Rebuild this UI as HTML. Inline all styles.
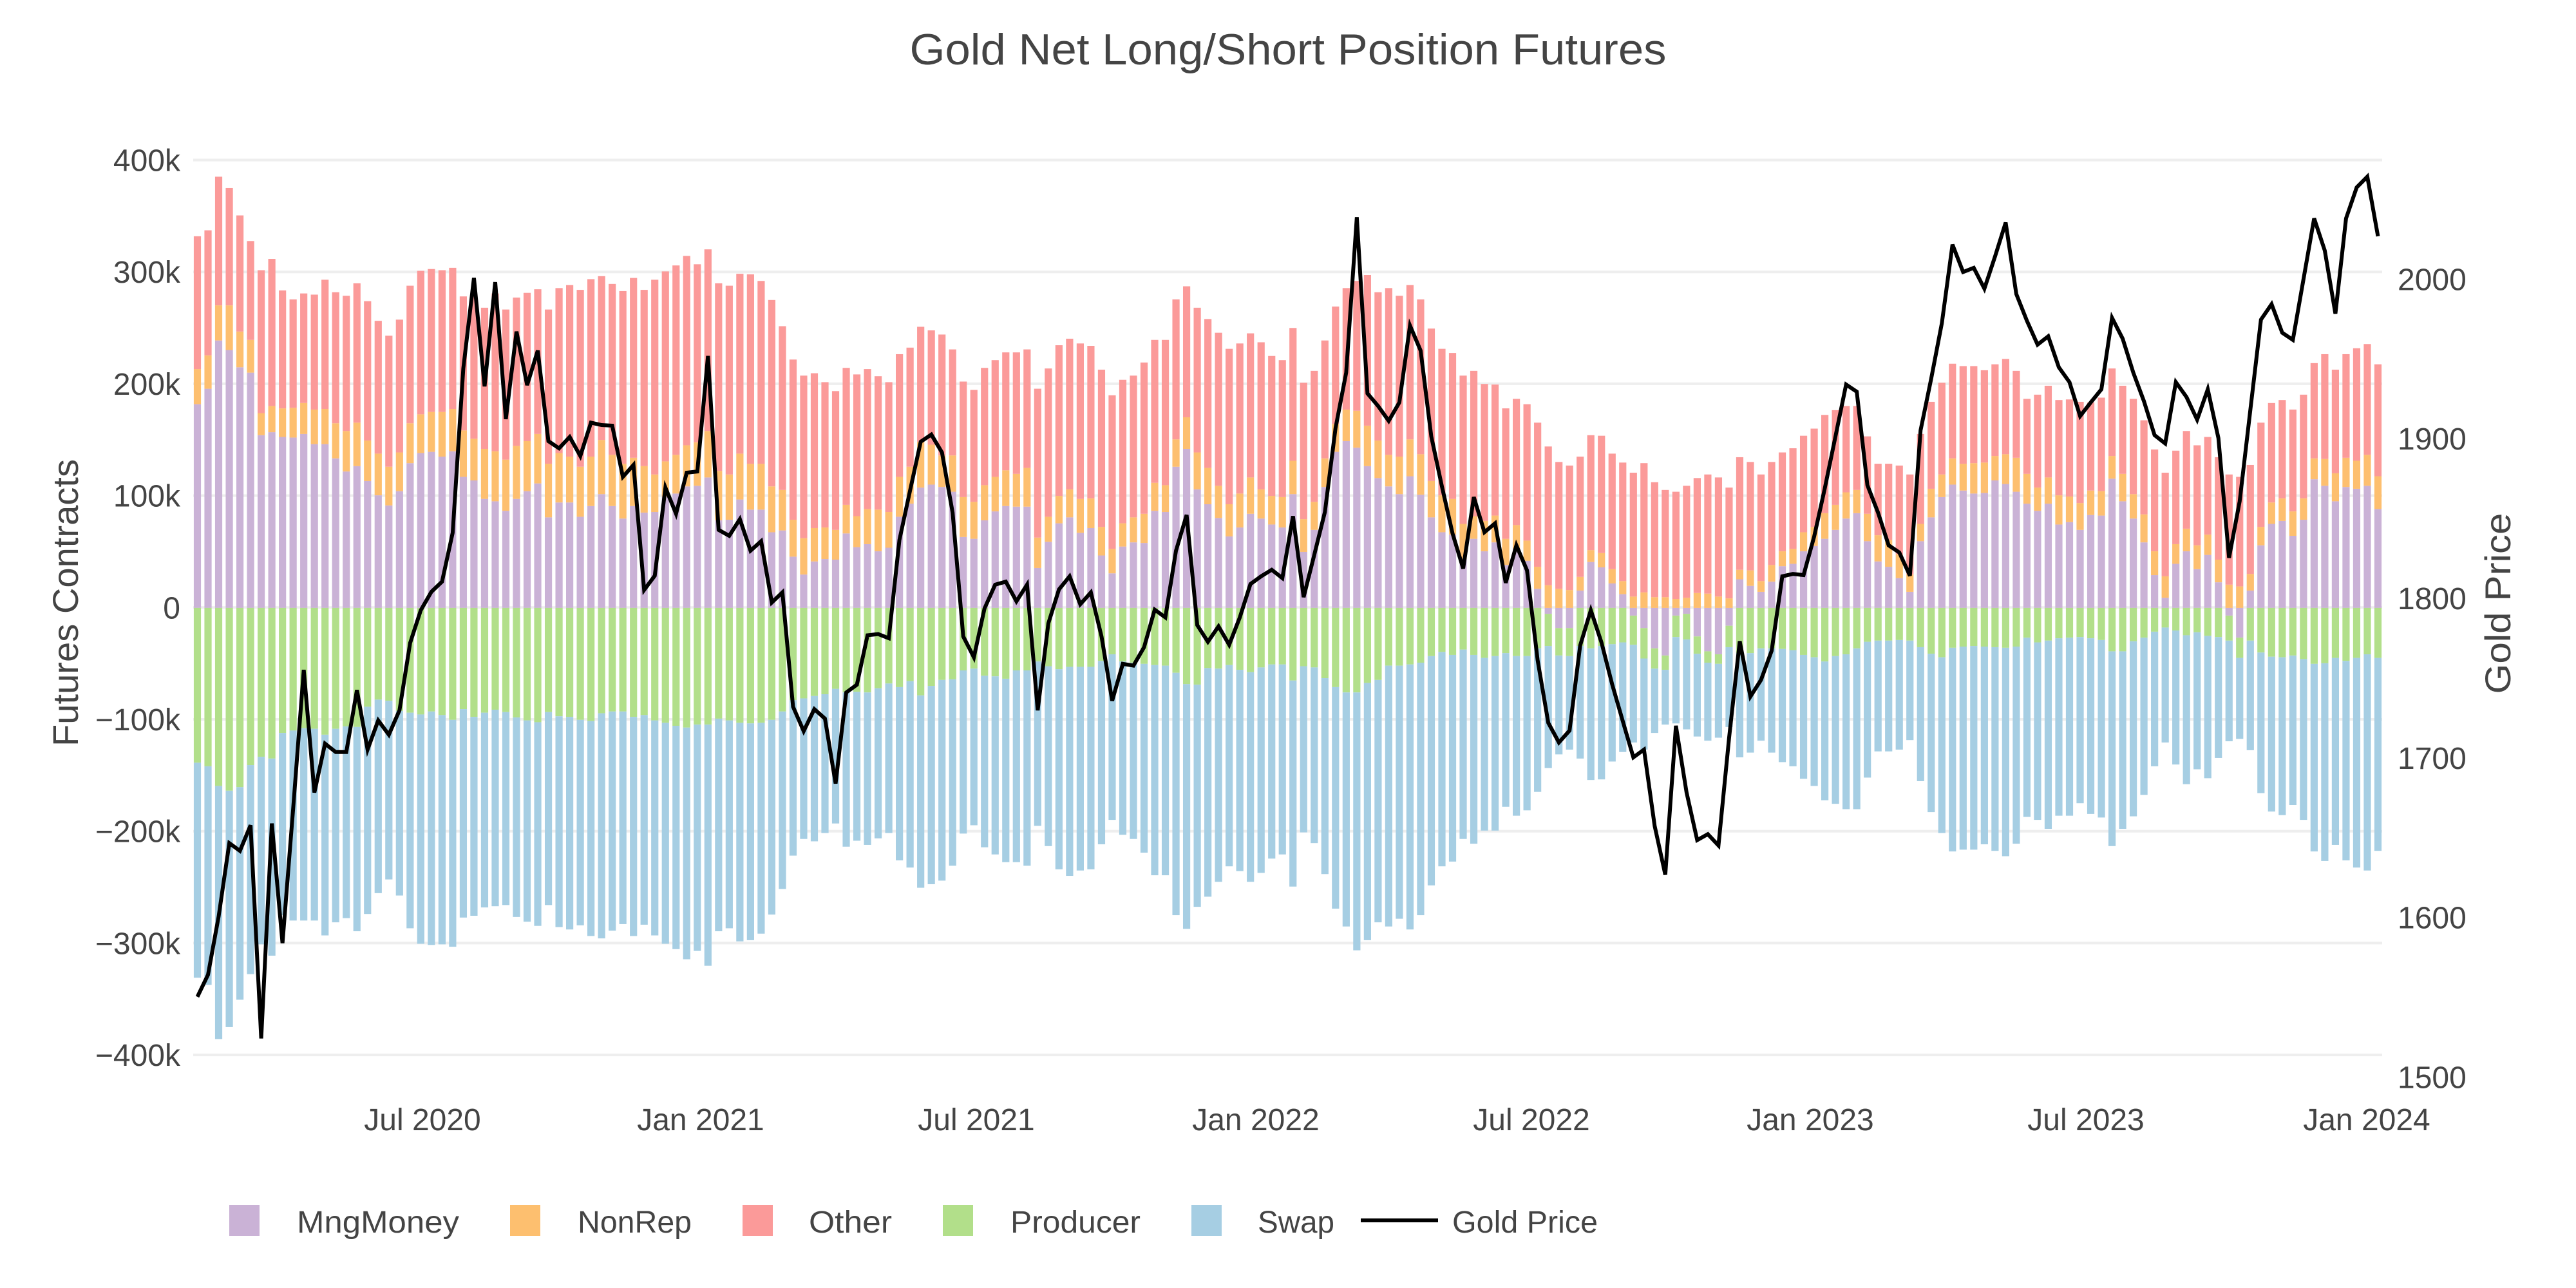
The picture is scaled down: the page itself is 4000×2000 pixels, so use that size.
<!DOCTYPE html>
<html>
<head>
<meta charset="utf-8">
<style>
html,body{margin:0;padding:0;background:#fff;}
svg{display:block;}
text{font-family:"Liberation Sans",Arial,sans-serif;fill:#444;}
</style>
</head>
<body>
<svg id="c" xmlns="http://www.w3.org/2000/svg" width="4000" height="2000" viewBox="0 0 4000 2000">
<rect x="0" y="0" width="4000" height="2000" fill="#ffffff"/>
<g stroke="#eeeeee" stroke-width="4">
<line x1="300" x2="3699" y1="248.5" y2="248.5"/>
<line x1="300" x2="3699" y1="422.2" y2="422.2"/>
<line x1="300" x2="3699" y1="595.9" y2="595.9"/>
<line x1="300" x2="3699" y1="769.6" y2="769.6"/>
<line x1="300" x2="3699" y1="943.3" y2="943.3"/>
<line x1="300" x2="3699" y1="1117.0" y2="1117.0"/>
<line x1="300" x2="3699" y1="1290.7" y2="1290.7"/>
<line x1="300" x2="3699" y1="1464.4" y2="1464.4"/>
<line x1="300" x2="3699" y1="1638.1" y2="1638.1"/>
</g>
<g id="bars"></g>
<polyline id="gold" fill="none" stroke="#000000" stroke-width="6" points=""/>

<!-- Title -->
<text x="2000" y="100" font-size="68" text-anchor="middle" textLength="1175" lengthAdjust="spacingAndGlyphs">Gold Net Long/Short Position Futures</text>

<!-- Left tick labels -->
<g font-size="48" text-anchor="end">
<text x="280" y="265.5">400k</text>
<text x="280" y="439.2">300k</text>
<text x="280" y="612.9">200k</text>
<text x="280" y="786.6">100k</text>
<text x="280" y="960.3">0</text>
<text x="280" y="1134">−100k</text>
<text x="280" y="1307.7">−200k</text>
<text x="280" y="1481.4">−300k</text>
<text x="280" y="1655.1">−400k</text>
</g>

<!-- Right tick labels -->
<g font-size="48" text-anchor="start">
<text x="3723" y="450.4">2000</text>
<text x="3723" y="698.2">1900</text>
<text x="3723" y="946">1800</text>
<text x="3723" y="1193.8">1700</text>
<text x="3723" y="1441.6">1600</text>
<text x="3723" y="1689.4">1500</text>
</g>

<!-- X tick labels -->
<g font-size="48" text-anchor="middle">
<text x="656" y="1755">Jul 2020</text>
<text x="1088" y="1755">Jan 2021</text>
<text x="1516" y="1755">Jul 2021</text>
<text x="1950" y="1755">Jan 2022</text>
<text x="2378" y="1755">Jul 2022</text>
<text x="2811" y="1755">Jan 2023</text>
<text x="3239" y="1755">Jul 2023</text>
<text x="3675" y="1755">Jan 2024</text>
</g>

<!-- Axis titles -->
<text transform="translate(121,936) rotate(-90)" font-size="56" text-anchor="middle" textLength="446" lengthAdjust="spacingAndGlyphs">Futures Contracts</text>
<text transform="translate(3898,937) rotate(-90)" font-size="56" text-anchor="middle" textLength="281" lengthAdjust="spacingAndGlyphs">Gold Price</text>

<!-- Legend -->
<rect x="356" y="1871" width="47" height="48" fill="#cab2d6"/>
<text x="461" y="1914" font-size="48" textLength="252" lengthAdjust="spacingAndGlyphs">MngMoney</text>
<rect x="792" y="1871" width="47" height="48" fill="#fdbf6f"/>
<text x="897" y="1914" font-size="48" textLength="177" lengthAdjust="spacingAndGlyphs">NonRep</text>
<rect x="1153" y="1871" width="47" height="48" fill="#fb9a99"/>
<text x="1256" y="1914" font-size="48" textLength="129" lengthAdjust="spacingAndGlyphs">Other</text>
<rect x="1464" y="1871" width="47" height="48" fill="#b2df8a"/>
<text x="1569" y="1914" font-size="48" textLength="202" lengthAdjust="spacingAndGlyphs">Producer</text>
<rect x="1850" y="1871" width="47" height="48" fill="#a6cee3"/>
<text x="1953" y="1914" font-size="48" textLength="119" lengthAdjust="spacingAndGlyphs">Swap</text>
<line x1="2113" y1="1895" x2="2233" y2="1895" stroke="#000" stroke-width="6"/>
<text x="2255" y="1914" font-size="48" textLength="226" lengthAdjust="spacingAndGlyphs">Gold Price</text>
</svg>
<script>
(function(){
var D=[
[148,371,430,1032,1393],[138,348,404,1038,1405],[48,264,323,1071,1496],[67,264,339,1079,1476],[113,308,368,1073,1430],
[156,322,377,1036,1387],[205,445,482,1022,1337],[186,433,477,1025,1356],[239,437,485,982,1288],[254,436,486,978,1297],
[244,428,480,974,1297],[246,439,497,975,1297],[221,438,497,985,1322],[242,462,521,975,1300],[248,475,543,971,1293],
[227,461,534,972,1315],[257,491,559,938,1286],[290,513,583,926,1251],[315,535,600,928,1228],[288,511,576,945,1255],
[231,462,529,948,1310],[206,447,512,951,1336],[203,443,510,946,1338],[205,443,518,952,1337],[201,438,509,960,1341],
[249,474,552,942,1292],[245,488,558,955,1289],[268,505,589,948,1275],[244,509,593,943,1273],[271,523,609,947,1271],
[251,500,589,956,1291],[243,492,576,961,1299],[237,480,563,964,1306],[271,530,620,947,1271],[235,512,595,954,1308],
[230,518,595,955,1312],[238,535,619,960,1305],[220,518,601,962,1323],[215,490,581,949,1327],[228,515,601,946,1314],
[240,530,622,946,1303],[218,520,601,955,1323],[238,534,612,952,1304],
[221,548,611,961,1322],[207,526,585,965,1336],[197,515,580,970,1345],[181,499,568,973,1362],[195,494,567,968,1348],
[170,475,553,968,1373],[227,542,625,958,1315],[231,548,624,961,1310],[211,513,590,965,1332],[212,530,607,966,1330],
[223,530,607,965,1319],[255,568,645,960,1287],[299,574,642,946,1244],[355,624,686,927,1188],[382,655,716,924,1160],
[378,638,694,920,1164],[393,637,690,917,1150],[408,641,691,908,1134],[369,599,647,914,1173],[380,618,670,913,1163],
[371,606,665,914,1170],[383,607,677,907,1159],[393,611,671,899,1150],[346,552,619,905,1196],[335,535,597,895,1208],
[300,493,570,919,1242],[306,498,565,903,1236],[313,516,569,893,1230],[338,516,577,892,1205],[392,586,653,877,1151],
[406,594,656,874,1137],[369,566,625,886,1174],[356,552,610,887,1186],[343,541,601,891,1199],[343,547,602,877,1199],
[338,537,602,877,1205],[404,654,705,862,1138],[370,619,661,870,1172],[331,584,630,875,1211],[320,573,620,871,1222],
[328,589,646,871,1213],[332,588,638,871,1211],[372,636,684,861,1169],
[415,673,714,850,1128],[389,630,669,862,1153],[382,620,662,864,1160],[360,614,663,866,1183],[322,562,609,868,1221],
[322,566,611,869,1221],[254,489,535,881,1288],[232,452,505,900,1311],[268,511,573,901,1274],[287,537,598,873,1257],
[310,567,621,874,1232],[337,598,652,868,1206],[328,580,637,876,1214],[311,553,614,880,1232],[326,573,622,872,1217],
[349,584,632,867,1193],[356,586,637,867,1186],[302,525,581,894,1240],[394,623,678,870,1149],[374,594,641,872,1167],
[323,521,569,890,1219],[266,463,510,905,1277],[235,439,492,914,1307],[223,441,503,914,1347],[213,466,534,898,1330],
[242,491,554,893,1300],[235,515,568,869,1307],[248,518,581,869,1294],[230,489,551,867,1312],[254,514,582,864,1288],
[303,559,620,853,1238],[337,583,645,846,1206],[344,589,649,851,1198],[382,631,690,842,1160],[374,618,656,851,1168],
[396,626,677,856,1146],[397,617,662,853,1146],[437,656,700,848,1106],[421,633,673,853,1121],[430,659,693,853,1112],
[461,703,740,840,1081],[501,734,782,836,1041],[527,740,806,852,1018],
[533,742,806,853,1010],[518,720,743,836,1025],[482,675,695,840,1061],[483,680,704,836,1060],[513,707,731,833,1030],
[528,727,749,830,1014],[545,753,785,834,998],[529,746,806,857,1010],[561,754,840,874,982],[574,754,852,876,968],
[577,757,785,821,966],[567,755,782,825,976],[554,747,820,849,988],[548,748,845,864,995],[553,753,850,866,990],
[570,756,802,838,972],[519,708,724,848,1023],[527,709,735,848,1015],[548,727,745,840,995],[527,700,728,840,1015],
[511,677,702,841,1031],[504,673,698,843,1038],[483,645,677,851,1059],[471,636,668,855,1071],[448,613,656,862,1095],
[440,599,641,853,1101],[433,578,622,850,1110],[433,574,613,840,1110],[484,614,660,829,1057],[530,650,694,827,1013],
[530,658,703,827,1013],[533,682,722,826,1010],[548,716,745,827,994],[480,631,660,838,1063],[426,572,620,849,1115],
[394,548,586,855,1150],[362,521,565,839,1181],[366,530,575,837,1178],[366,529,580,836,1178],[373,528,579,837,1169],
[363,517,558,838,1180],[354,514,564,839,1189],[374,520,577,837,1168],
[421,547,597,822,1123],[414,570,609,830,1128],[399,553,597,827,1143],[423,583,632,823,1121],[422,585,628,822,1121],
[426,596,641,821,1100],[427,575,616,823,1118],[419,576,617,826,1124],[370,517,555,845,1172],[399,547,593,845,1143],
[421,581,622,828,1122],[457,615,662,822,1086],[506,677,717,812,1038],[545,719,755,805,998],[508,665,698,810,1035],
[475,639,677,818,1068],[499,667,707,813,1043],[485,649,683,819,1058],[519,691,729,821,1024],[548,733,785,827,996],
[552,736,822,856,992],[532,715,743,827,1011],[461,636,667,847,1083],[428,595,631,854,1114],[423,588,626,855,1120],
[439,610,651,852,1103],[414,588,624,858,1128],[361,521,556,866,1181],[346,522,567,865,1197],[372,546,593,856,1170],
[346,520,569,861,1196],[336,525,572,856,1208],[329,515,567,850,1213],[363,551,606,856,1180]
];
var L=[1425,1388,1290,1167,1180,1137,1495,1134,1335,1110,876,1082,1000,1014,1014,910,1010,961,985,944,831,776,745,728,646,370,218,400,225,455,308,398,340,492,504,485,517,461,465,466,552,532,742,
718,570,614,545,543,349,641,651,623,676,660,763,746,938,979,942,958,1067,914,901,818,816,823,658,575,493,481,511,612,820,855,773,733,728,761,733,944,798,741,719,766,746,820,
928,866,869,838,775,788,676,616,801,829,803,834,788,732,719,708,722,618,754,683,611,470,377,116,412,433,458,427,298,340,484,568,647,706,586,645,630,730,667,709,860,965,998,
978,835,776,830,900,962,1023,1010,1138,1220,970,1082,1162,1152,1171,990,828,921,893,844,719,715,717,652,571,484,397,409,566,612,667,679,718,474,387,294,162,208,201,236,182,125,245,
290,330,316,368,393,450,427,405,285,320,377,425,482,496,393,418,456,405,487,688,593,440,288,262,310,322,220,118,172,278,118,66,48,148];
var s=1450/1568;
function Y(v){return 230+v*s;}
var ns="http://www.w3.org/2000/svg";
var g=document.getElementById("bars");
var W=11.2, X0=306.5, DX=16.517;
var CP="#cab2d6",CO="#fdbf6f",CR="#fb9a99",CG="#b2df8a",CB="#a6cee3";
function rect(x,y1,y2,c){
  var a=Math.min(y1,y2),b=Math.max(y1,y2);
  if(b-a<0.3)return;
  var r=document.createElementNS(ns,"rect");
  r.setAttribute("x",x.toFixed(2));
  r.setAttribute("y",a.toFixed(2));
  r.setAttribute("width",W);
  r.setAttribute("height",(b-a).toFixed(2));
  r.setAttribute("fill",c);
  g.appendChild(r);
}
var Z=Y(772);
for(var i=0;i<D.length;i++){
  var d=D[i],x=X0+i*DX-W/2;
  var R=Y(d[0]),O=Y(d[1]),P=Y(d[2]),G=Y(d[3]),B=Y(d[4]);
  if(d[2]>772){
    rect(x,Z,P,CP);rect(x,O,Z,CO);rect(x,R,O,CR);rect(x,P,G,CG);rect(x,G,B,CB);
  }else{
    rect(x,P,Z,CP);rect(x,O,P,CO);rect(x,R,O,CR);rect(x,Z,G,CG);rect(x,G,B,CB);
  }
}
var pts=[];
for(var j=0;j<L.length;j++){pts.push((X0+j*DX).toFixed(2)+","+Y(L[j]).toFixed(2));}
document.getElementById("gold").setAttribute("points",pts.join(" "));
})();
</script>
</body>
</html>
